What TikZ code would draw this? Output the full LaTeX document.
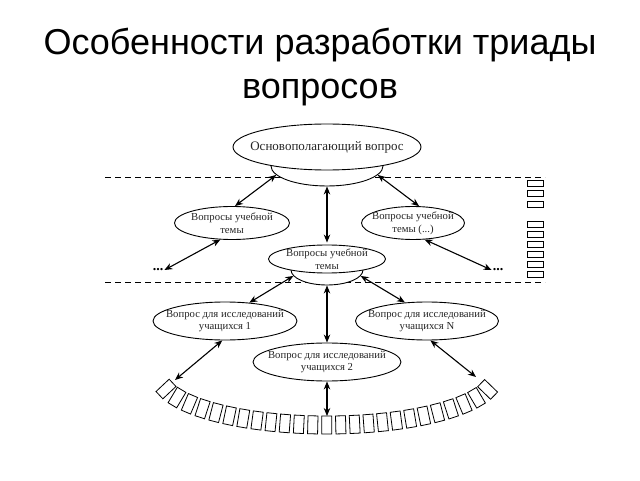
\documentclass[tikz,border=0pt]{standalone}
\usepackage{fontspec}
\setmainfont{Liberation Serif}
\newfontfamily\titlefont{Liberation Sans}
\usetikzlibrary{arrows.meta,shapes.geometric,decorations.markings}
\begin{document}
\begin{tikzpicture}[x=1pt,y=1pt,
  bub/.style={ellipse, draw, line width=0.9pt, fill=white, inner sep=0pt},
  lbl/.style={inner sep=0pt, align=center, text=black!85, font=\fontsize{10.7}{12.7}\selectfont},
  big/.style={inner sep=0pt, align=center, text=black!85, font=\fontsize{13}{15}\selectfont},
  dbl/.style={{Stealth[length=8pt,width=6.5pt]}-{Stealth[length=8pt,width=6.5pt]}, line width=1.1pt},
  tofu/.style={draw, line width=0.8pt},
  sep/.style={line width=0.8pt, dash pattern=on 6pt off 4pt},
  dots/.style={inner sep=1pt, font=\bfseries\fontsize{14}{14}\selectfont},
  ttl/.style={inner sep=0pt, font=\titlefont\fontsize{36}{41}\selectfont}]
\useasboundingbox (0,0) rectangle (640,480);
% title
\node[ttl, anchor=base] (t1) at (320,425) {Особенности разработки триады};
\node[ttl, anchor=base] (t2) at (320,381) {вопросов};
% separators
\draw[sep] (105,303) -- (545,303);
\draw[sep] (105,198) -- (545,198);
% top node with bowl
\node[bub, minimum width=112, minimum height=40] (Tb) at (327,314) {};
\node[bub, minimum width=188, minimum height=46] (T) at (327,333) {};
\node[big] (Tt) at (T) {Основополагающий вопрос};
% second tier
\node[bub, minimum width=115, minimum height=33] (L) at (232,257) {};
\node[lbl] (Lt) at (L) {Вопросы учебной\\темы};
\node[bub, minimum width=103, minimum height=33] (R) at (413,257) {};
\node[lbl] (Rt) at (R) {Вопросы учебной\\темы (...)};
\node[bub, minimum width=72, minimum height=30] (Cb) at (327,210) {};
\node[bub, minimum width=117, minimum height=28] (C) at (327,221) {};
\node[lbl] (Ct) at (C) {Вопросы учебной\\темы};
\node[dots] (dl) at (158,210) {...};
\node[dots] (dr) at (498,210) {...};
% third tier
\node[bub, minimum width=144, minimum height=38] (E1) at (225,159) {};
\node[lbl] (E1t) at (E1) {Вопрос для исследований\\учащихся 1};
\node[bub, minimum width=143, minimum height=38] (EN) at (427,159) {};
\node[lbl] (ENt) at (EN) {Вопрос для исследований\\учащихся N};
\node[bub, minimum width=148, minimum height=38] (E2) at (327,118) {};
\node[lbl] (E2t) at (E2) {Вопрос для исследований\\учащихся 2};
% arc of boxes
\path[postaction={decorate}, decoration={markings,
  mark=between positions 0 and 1 step 0.0416 with {\draw[tofu] (-5pt,-9pt) rectangle (5pt,9pt);}}]
  (166,91) arc[start angle=195.4, end angle=344.6, x radius=167, y radius=49];
\coordinate (Bl) at (175,100);
\coordinate (Bm) at (327,64);
\coordinate (Br) at (476,103);
% vertical boxes on the right
\foreach \yy in {297,287,276,256,246,236,226,216,206}
  \draw[tofu] (527.5,\yy-3) rectangle (543.5,\yy+3);
% connectors
\draw[dbl] (Tb.190) -- (L.80);
\draw[dbl] (Tb.-10) -- (R.70);
\draw[dbl, shorten >=2pt] (Tb.south) -- (C.north);
\draw[dbl] (L.235) -- (dl.east);
\draw[dbl] (R.-55) -- (dr.west);
\draw[dbl] (Cb.190) -- (E1.37);
\draw[dbl] (Cb.-10) -- (EN.140);
\draw[dbl] (Cb.south) -- (E2.north);
\draw[dbl] (E1.262) -- (Bl);
\draw[dbl] (EN.-80) -- (Br);
\draw[dbl] (E2.south) -- (Bm);
\end{tikzpicture}
\end{document}
